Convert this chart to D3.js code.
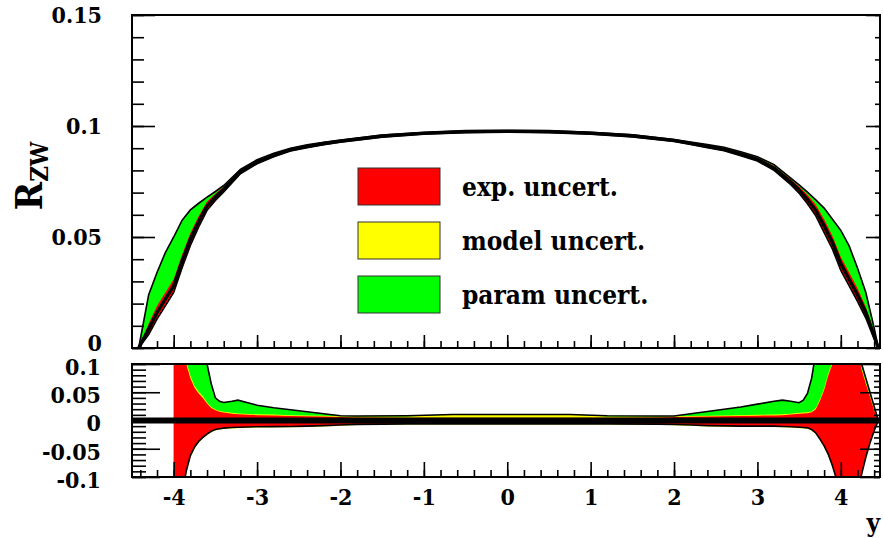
<!DOCTYPE html>
<html>
<head>
<meta charset="utf-8">
<script src="https://cdn.jsdelivr.net/npm/d3@7"></script>
<style>
  body { margin: 0; background: #fff; }
  svg { display: block; }
</style>
</head>
<body>
<div id="chart"></div>
<script>
// rapidity grid and values for the upper panel (R_ZW with bands)
const yTopGrid = [-4.42, -4.3, -4.2, -4.1, -4.0, -3.9, -3.8, -3.7, -3.6, -3.5, -3.4, -3.2, -3.0, -2.8, -2.6, -2.4, -2.2, -2.0,
  -1.5, -1.0, -0.5, 0, 0.5, 1.0, 1.5, 2.0, 2.2, 2.4, 2.6, 2.8, 3.0, 3.2, 3.4, 3.5, 3.6, 3.7, 3.8, 3.9, 4.0, 4.1, 4.2, 4.3, 4.4, 4.45];
const rCentral = [0, 0.0085, 0.016, 0.022, 0.028, 0.039, 0.049, 0.057, 0.064, 0.068, 0.0715, 0.0795, 0.0838, 0.0868, 0.0893, 0.0908, 0.0921, 0.0932,
  0.0955, 0.0968, 0.0975, 0.0977, 0.0975, 0.0968, 0.0956, 0.0935, 0.0922, 0.0908, 0.0895, 0.0873, 0.085, 0.081, 0.0748, 0.0712, 0.067, 0.062, 0.055, 0.0475, 0.038, 0.031, 0.024, 0.016, 0.0055, 0];
const rParamHi = [0, 0.024, 0.034, 0.043, 0.05, 0.0575, 0.0622, 0.0652, 0.068, 0.0705, 0.0732, 0.0805, 0.0848, 0.0877, 0.09, 0.0915, 0.0927, 0.0937,
  0.0959, 0.0971, 0.0978, 0.098, 0.0978, 0.0972, 0.096, 0.0939, 0.0928, 0.0916, 0.0904, 0.0884, 0.0862, 0.0826, 0.0765, 0.0735, 0.0702, 0.0667, 0.063, 0.058, 0.053, 0.046, 0.036, 0.025, 0.009, 0];
const rExpHalf = [0, 0.0025, 0.003, 0.003, 0.003, 0.003, 0.0028, 0.0025, 0.002, 0.0015, 0.0012, 0.001, 0.0008, 0.0007, 0.0006, 0.0006, 0.0005, 0.0005,
  0.0005, 0.0005, 0.0005, 0.0005, 0.0005, 0.0005, 0.0005, 0.0005, 0.0005, 0.0006, 0.0006, 0.0007, 0.0008, 0.001, 0.0012, 0.0015, 0.002, 0.0025, 0.003, 0.003, 0.003, 0.003, 0.003, 0.0025, 0.0015, 0];

// rapidity grid and relative deviations for the lower panel
const yBotGrid = [-4.0, -3.9, -3.85, -3.8, -3.75, -3.7, -3.65, -3.6, -3.55, -3.5, -3.45, -3.4, -3.3, -3.23, -3.1, -3.0, -2.8, -2.6, -2.4, -2.2,
  -2.0, -1.8, -1.2, -0.65, 0.75, 1.2, 1.8, 2.0, 2.2, 2.4, 2.6, 2.8, 3.0, 3.2, 3.3, 3.4, 3.5, 3.55, 3.6, 3.65,
  3.7, 3.75, 3.8, 3.85, 3.9, 3.95, 4.0, 4.1, 4.2, 4.25, 4.3, 4.35, 4.4, 4.45];
const relParamHi = [0.5, 0.45, 0.35, 0.28, 0.22, 0.17, 0.13, 0.1, 0.065, 0.04, 0.034, 0.032, 0.034, 0.036, 0.031, 0.027, 0.0225, 0.019, 0.0155, 0.012,
  0.0085, 0.008, 0.0085, 0.0105, 0.0105, 0.0085, 0.008, 0.008, 0.012, 0.016, 0.02, 0.024, 0.029, 0.034, 0.036, 0.034, 0.0315, 0.036, 0.048, 0.075,
  0.12, 0.18, 0.25, 0.3, 0.35, 0.4, 0.45, 0.4, 0.14, 0.1, 0.075, 0.05, 0.025, 0];
const relModelHi = [0.5, 0.21, 0.105, 0.079, 0.061, 0.051, 0.043, 0.032, 0.024, 0.0195, 0.017, 0.0155, 0.0135, 0.0125, 0.0115, 0.011, 0.0105, 0.0095, 0.009, 0.0085,
  0.0075, 0.007, 0.007, 0.0105, 0.0105, 0.007, 0.007, 0.0075, 0.008, 0.0085, 0.009, 0.0095, 0.01, 0.0105, 0.011, 0.012, 0.0135, 0.014, 0.0145, 0.016,
  0.022, 0.037, 0.057, 0.083, 0.103, 0.143, 0.2, 0.22, 0.123, 0.093, 0.068, 0.045, 0.02, 0];
const relModelLo = [-0.5, -0.14, -0.093, -0.065, -0.05, -0.039, -0.032, -0.026, -0.0205, -0.0175, -0.016, -0.015, -0.014, -0.0135, -0.013, -0.0125, -0.012, -0.012, -0.0115, -0.0105,
  -0.0095, -0.008, -0.007, -0.007, -0.007, -0.007, -0.0075, -0.0085, -0.0095, -0.0105, -0.011, -0.0115, -0.0115, -0.0115, -0.012, -0.0125, -0.0135, -0.014, -0.0145, -0.018,
  -0.024, -0.035, -0.048, -0.063, -0.083, -0.108, -0.155, -0.175, -0.133, -0.098, -0.068, -0.043, -0.02, 0];
const relExpHi = [0.5, 0.2, 0.1, 0.075, 0.058, 0.048, 0.04, 0.03, 0.022, 0.018, 0.0155, 0.014, 0.012, 0.011, 0.01, 0.0095, 0.009, 0.008, 0.0075, 0.007,
  0.006, 0.0055, 0.005, 0.005, 0.005, 0.005, 0.0055, 0.006, 0.0065, 0.007, 0.0075, 0.008, 0.0085, 0.009, 0.0095, 0.0105, 0.012, 0.0125, 0.013, 0.0145,
  0.02, 0.035, 0.054, 0.08, 0.1, 0.14, 0.2, 0.22, 0.12, 0.09, 0.065, 0.042, 0.018, 0];
const relExpLo = [-0.5, -0.13, -0.09, -0.062, -0.047, -0.037, -0.03, -0.024, -0.019, -0.016, -0.0145, -0.0135, -0.0125, -0.012, -0.0115, -0.011, -0.0108, -0.0105, -0.01, -0.009,
  -0.008, -0.0068, -0.006, -0.006, -0.006, -0.006, -0.0065, -0.007, -0.008, -0.009, -0.0095, -0.01, -0.01, -0.01, -0.0105, -0.011, -0.012, -0.0125, -0.013, -0.016,
  -0.022, -0.033, -0.045, -0.06, -0.08, -0.105, -0.15, -0.17, -0.13, -0.095, -0.065, -0.04, -0.018, 0];

// axis ticks and legend
const xTickValues = [-4, -3, -2, -1, 0, 1, 2, 3, 4];
const topTickValues = [0, 0.05, 0.1, 0.15];
const botTickValues = [-0.1, -0.05, 0, 0.05, 0.1];
const legendLabels = ["exp. uncert.", "model uncert.", "param uncert."];
const legendColors = ["#ff0000", "#ffff00", "#00ff00"];

const serif = "'DejaVu Serif Condensed', 'DejaVu Serif', serif";
const width = 884, height = 538;
const svg = d3.select("#chart").append("svg")
  .attr("width", width).attr("height", height)
  .attr("viewBox", [0, 0, width, height]);

const x = d3.scaleLinear().domain([-4.5, 4.47]).range([132, 880]);
const yT = d3.scaleLinear().domain([0, 0.15]).range([348, 15]);
const yB = d3.scaleLinear().domain([-0.1, 0.1]).range([477, 364]);

svg.append("defs").append("clipPath").attr("id", "clipBot")
  .append("rect").attr("x", 132).attr("y", 364).attr("width", 748).attr("height", 113);

// ---- upper panel ----
const topG = svg.append("g");
const topIdx = d3.range(yTopGrid.length);

topG.append("path")
  .attr("fill", "#00ff00")
  .attr("d", d3.area().x(i => x(yTopGrid[i])).y0(i => yT(rCentral[i] - rExpHalf[i])).y1(i => yT(rParamHi[i]))(topIdx));
topG.append("path")
  .attr("fill", "#ff0000")
  .attr("d", d3.area().x(i => x(yTopGrid[i])).y0(i => yT(rCentral[i] - rExpHalf[i])).y1(i => yT(rCentral[i] + rExpHalf[i]))(topIdx));
[i => rParamHi[i], i => rCentral[i] - rExpHalf[i]].forEach(f => {
  topG.append("path").attr("fill", "none").attr("stroke", "#000").attr("stroke-width", 1.6)
    .attr("d", d3.line().x(i => x(yTopGrid[i])).y(i => yT(f(i)))(topIdx));
});
topG.append("path").attr("fill", "none").attr("stroke", "#000").attr("stroke-width", 3.4)
  .attr("d", d3.line().x(i => x(yTopGrid[i])).y(i => yT(rCentral[i]))(topIdx));

// legend
const leg = topG.append("g");
legendLabels.forEach((lab, i) => {
  const yy = 168 + i * 54;
  leg.append("rect").attr("x", 358).attr("y", yy).attr("width", 82).attr("height", 37)
    .attr("fill", legendColors[i]).attr("stroke", "#333").attr("stroke-width", 1);
  leg.append("text").attr("x", 462).attr("y", yy + 19).attr("dy", "0.35em")
    .style("font-size", "26px").text(lab);
});

// upper axes
const topLeft = svg.append("g").attr("transform", "translate(132,0)");
topLeft.call(d3.axisLeft(yT).tickValues(yT.ticks(15)).tickSize(-12).tickFormat(""));
topLeft.call(g => g.append("g").attr("class", "toplabels")
  .call(d3.axisLeft(yT).tickValues(topTickValues).tickSize(-23).tickPadding(30).tickFormat(d => String(d))));
const topRight = svg.append("g").attr("transform", "translate(880,0)");
topRight.call(d3.axisRight(yT).tickValues(yT.ticks(15)).tickSize(-5).tickFormat(""));
topRight.call(g => g.append("g").call(d3.axisRight(yT).tickValues(topTickValues).tickSize(-14).tickFormat("")));
const topBottom = svg.append("g").attr("transform", "translate(0,348)");
topBottom.call(d3.axisBottom(x).tickValues(d3.range(-44, 45, 2).map(v => v / 10)).tickSize(-7).tickFormat(""));
topBottom.call(g => g.append("g").call(d3.axisBottom(x).tickValues(xTickValues).tickSize(-13).tickFormat("")));

topG.append("rect").attr("x", 132).attr("y", 15).attr("width", 748).attr("height", 333)
  .attr("fill", "none").attr("stroke", "#000").attr("stroke-width", 2);

// y title
svg.append("text")
  .attr("transform", "translate(42,176) rotate(-90)")
  .attr("text-anchor", "middle")
  .call(t => {
    t.append("tspan").style("font-size", "38px").text("R");
    t.append("tspan").attr("dy", 6).style("font-size", "24px").text("ZW");
  });

// ---- lower panel ----
svg.append("rect").attr("x", 0).attr("y", 353).attr("width", width).attr("height", height - 353).attr("fill", "#fff");

const bot = svg.append("g").attr("clip-path", "url(#clipBot)");
const botIdx = d3.range(yBotGrid.length);
const band = (lo, hi) => d3.area().x(i => x(yBotGrid[i])).y0(i => yB(lo[i])).y1(i => yB(hi[i]))(botIdx);

bot.append("path").attr("fill", "#00ff00").attr("d", band(relExpLo, relParamHi));
bot.append("path").attr("fill", "#ffff00").attr("d", band(relModelLo, relModelHi));
bot.append("path").attr("fill", "#ff0000").attr("d", band(relExpLo, relExpHi));
[relParamHi, relExpLo].forEach(arr => {
  bot.append("path").attr("fill", "none").attr("stroke", "#000").attr("stroke-width", 1.6)
    .attr("d", d3.line().x(i => x(yBotGrid[i])).y(i => yB(arr[i]))(botIdx));
});
bot.append("line").attr("x1", 132).attr("x2", 880).attr("y1", yB(0)).attr("y2", yB(0))
  .attr("stroke", "#000").attr("stroke-width", 6);

const fmt = d => String(d);
const botLeft = svg.append("g").attr("transform", "translate(132,0)");
botLeft.call(d3.axisLeft(yB).tickValues(yB.ticks(20)).tickSize(-14).tickFormat(""));
botLeft.call(g => g.append("g").attr("class", "botlabels")
  .call(d3.axisLeft(yB).tickValues(botTickValues).tickSize(-28).tickPadding(31).tickFormat(fmt)));
const botRight = svg.append("g").attr("transform", "translate(880,0)");
botRight.call(d3.axisRight(yB).tickValues(yB.ticks(20)).tickSize(-6).tickFormat(""));
botRight.call(g => g.append("g").call(d3.axisRight(yB).tickValues(botTickValues).tickSize(-20).tickFormat("")));
const botBottom = svg.append("g").attr("transform", "translate(0,477)");
botBottom.call(d3.axisBottom(x).tickValues(d3.range(-44, 45, 2).map(v => v / 10)).tickSize(-7).tickFormat(""));
botBottom.call(g => g.append("g").call(d3.axisBottom(x).tickValues(xTickValues).tickSize(-15).tickPadding(12).tickFormat(fmt)));

svg.append("rect").attr("x", 132).attr("y", 364).attr("width", 748).attr("height", 113)
  .attr("fill", "none").attr("stroke", "#000").attr("stroke-width", 2);

svg.append("text").attr("x", 880).attr("y", 532).attr("text-anchor", "end")
  .style("font-size", "26px").text("y");

// axis styling, ROOT-like
svg.selectAll(".domain").remove();
svg.selectAll(".tick line").attr("stroke", "#000").attr("stroke-width", 1.6);
svg.selectAll(".tick text").style("font-size", "23px");
svg.selectAll(".botlabels .tick text").attr("dy", "0.45em");
// the zero label of the upper pad sits partly under the lower pad
svg.selectAll(".toplabels .tick text").filter(d => d === 0).attr("dy", "0.12em");
svg.selectAll("g").attr("font-family", null);
svg.selectAll("text")
  .style("font-family", serif)
  .style("font-weight", "bold")
  .attr("fill", "#000");
</script>
</body>
</html>
